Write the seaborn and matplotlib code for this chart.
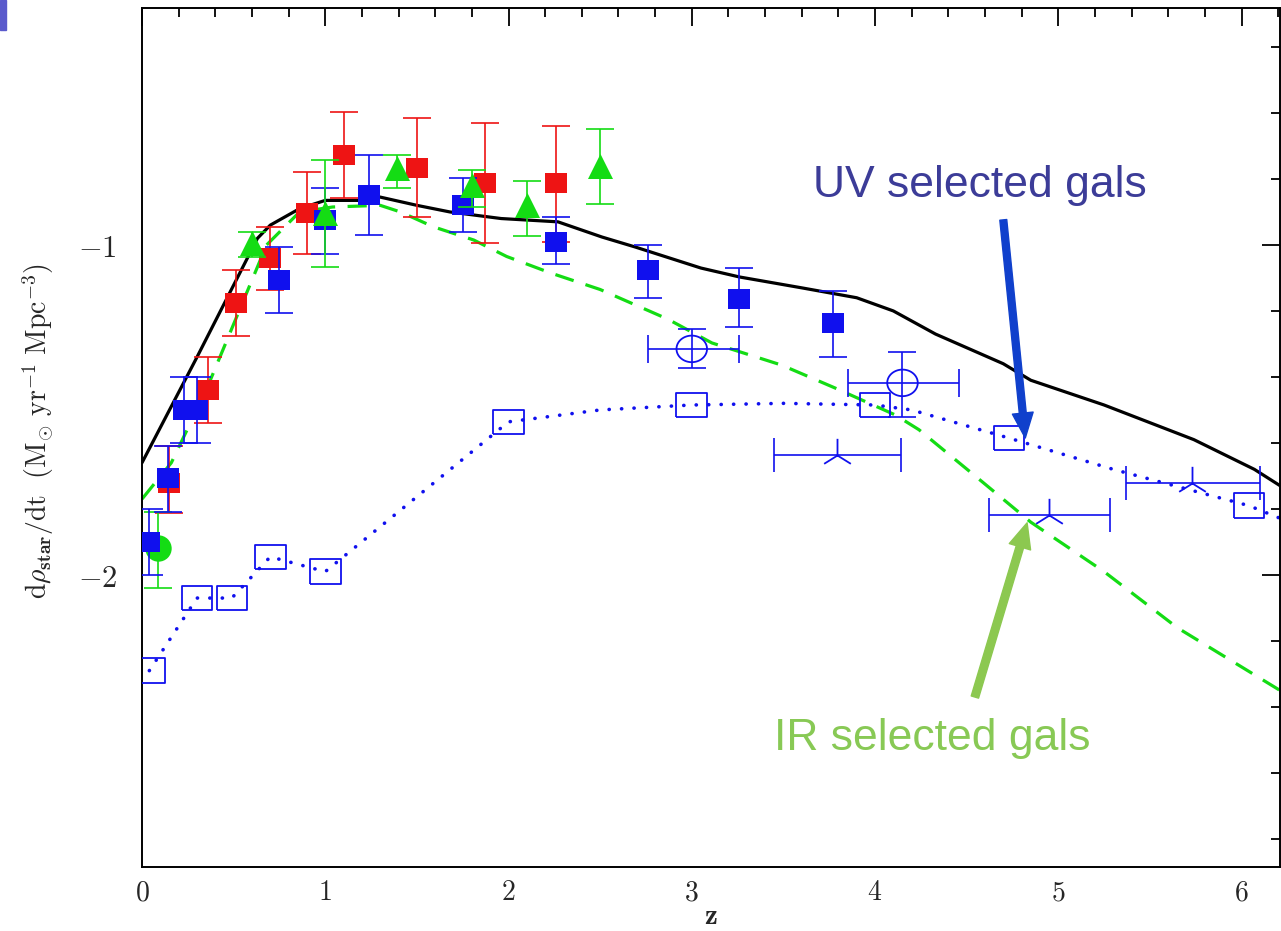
import numpy as np
import matplotlib
matplotlib.use("Agg")
import matplotlib.pyplot as plt
import seaborn as sns
from matplotlib.patches import Rectangle
from matplotlib.ticker import FixedLocator, FixedFormatter, MultipleLocator

# ---------------- data (z, log10 SFR density) ----------------
model_z = [0.0, 0.3, 0.63, 0.70, 0.86, 1.0, 1.2, 1.3, 1.5, 1.68, 1.96, 2.27, 2.51, 2.69,
           3.05, 3.26, 3.6, 3.9, 4.1, 4.33, 4.7, 4.85, 5.25, 5.74, 6.07, 6.24]
model_y = [-1.66, -1.34, -0.98, -0.94, -0.89, -0.865, -0.865, -0.855, -0.88, -0.90, -0.92,
           -0.93, -0.976, -1.006, -1.07, -1.097, -1.13, -1.16, -1.20, -1.27, -1.36, -1.41,
           -1.485, -1.59, -1.68, -1.74]

ir_z = [0.0, 0.16, 0.35, 0.53, 0.68, 0.86, 1.04, 1.3, 1.41, 1.59, 1.81, 1.99, 2.23, 2.5,
        2.87, 3.11, 3.49, 3.78, 4.11, 4.24, 4.59, 4.85, 5.25, 5.65, 6.24]
ir_y = [-1.77, -1.66, -1.44, -1.2, -1.0, -0.90, -0.885, -0.88, -0.90, -0.945, -0.985,
        -1.035, -1.085, -1.135, -1.225, -1.297, -1.364, -1.433, -1.515, -1.56, -1.72,
        -1.84, -1.99, -2.16, -2.36]

uvdot_z = [0.04, 0.30, 0.49, 0.70, 1.0, 2.0, 2.5, 3.0, 3.5, 4.0, 4.2, 4.73, 5.3, 6.04, 6.24]
uvdot_y = [-2.29, -2.07, -2.07, -1.945, -1.99, -1.536, -1.50, -1.485, -1.48, -1.485, -1.50,
           -1.585, -1.68, -1.79, -1.835]

open_sq_z = [0.04, 0.30, 0.49, 0.70, 1.0, 2.0, 3.0, 4.0, 4.73, 6.04]
open_sq_y = [-2.29, -2.07, -2.07, -1.945, -1.99, -1.536, -1.485, -1.485, -1.585, -1.79]

blue_z = [0.04, 0.14, 0.23, 0.30, 0.75, 1.0, 1.24, 1.75, 2.26, 2.76, 3.26, 3.77]
blue_y = [-1.90, -1.706, -1.50, -1.50, -1.106, -0.924, -0.85, -0.88, -0.99, -1.076, -1.164, -1.236]
blue_lo = [-2.00, -1.81, -1.60, -1.60, -1.206, -1.027, -0.97, -0.96, -1.058, -1.16, -1.25, -1.34]
blue_hi = [-1.80, -1.61, -1.40, -1.40, -1.006, -0.827, -0.727, -0.797, -0.915, -1.0, -1.07, -1.14]

red_z = [0.15, 0.36, 0.515, 0.70, 0.90, 1.10, 1.50, 1.87, 2.26]
red_y = [-1.72, -1.44, -1.176, -1.04, -0.903, -0.727, -0.767, -0.812, -0.812]
red_lo = [-1.812, -1.54, -1.276, -1.136, -1.027, -0.858, -0.915, -0.994, -0.99]
red_hi = [-1.61, -1.34, -1.076, -0.945, -0.78, -0.597, -0.615, -0.63, -0.64]

tri_z = [0.60, 1.0, 1.39, 1.80, 2.10, 2.50]
tri_y = [-0.994, -0.903, -0.767, -0.818, -0.88, -0.76]
tri_lo = [-1.036, -1.067, -0.827, -0.885, -0.973, -0.876]
tri_hi = [-0.96, -0.742, -0.727, -0.773, -0.806, -0.648]

gcirc_z = [0.09]
gcirc_y = [-1.918]
gcirc_lo = [-2.04]
gcirc_hi = [-1.81]

ocirc_z = [3.0, 4.15]
ocirc_y = [-1.315, -1.418]
ocirc_lo = [-1.373, -1.52]
ocirc_hi = [-1.255, -1.324]
ocirc_zlo = [2.76, 3.85]
ocirc_zhi = [3.26, 4.46]

star_z = [3.79, 4.95, 5.73]
star_y = [-1.636, -1.818, -1.72]
star_zlo = [3.45, 4.62, 5.37]
star_zhi = [4.14, 5.28, 6.10]

xtick_vals = [0, 1, 2, 3, 4, 5, 6]
xtick_labels = [r"$0$", r"$1$", r"$2$", r"$3$", r"$4$", r"$5$", r"$6$"]
ytick_vals = [-2, -1]
ytick_labels = [r"$-2$", r"$-1$"]

# ---------------- style ----------------
sns.set_style("white")
plt.rcParams["mathtext.fontset"] = "cm"
plt.rcParams["font.family"] = ["DejaVu Serif"]

BLUE = "#1010ee"
RED = "#ee1414"
GREEN = "#14dc14"

fig = plt.figure(figsize=(12.81, 9.31), dpi=100)
fig.patch.set_facecolor("white")
ax = fig.add_axes([142 / 1281, 1 - 867 / 931, (1280 - 142) / 1281, (867 - 8) / 931])

# marker shapes (slightly wide rectangles / ellipses as in the original)
rect_w = [(-1, -0.87), (1, -0.87), (1, 0.87), (-1, 0.87), (-1, -0.87)]
rect_open = [(-1, -0.8), (1, -0.8), (1, 0.8), (-1, 0.8), (-1, -0.8)]
th = np.linspace(0, 2 * np.pi, 60)
ellipse = list(zip(np.cos(th), 0.87 * np.sin(th)))

# ---------------- lines ----------------
sns.lineplot(x=model_z, y=model_y, ax=ax, color="black", lw=2.3, sort=False,
             estimator=None, zorder=2)
sns.lineplot(x=ir_z, y=ir_y, ax=ax, color=GREEN, lw=2.3, sort=False,
             estimator=None, zorder=2)
ax.lines[-1].set_dashes((6.0, 3.9))
sns.lineplot(x=uvdot_z, y=uvdot_y, ax=ax, color=BLUE, lw=2.6, sort=False,
             estimator=None, zorder=2)
ax.lines[-1].set_dashes((0.05, 3.4))
ax.lines[-1].set_dash_capstyle("round")

# ---------------- error bars ----------------
def verr(z, y, lo, hi, col, zo):
    y = np.asarray(y)
    ax.errorbar(z, y, yerr=[y - np.asarray(lo), np.asarray(hi) - y], fmt="none",
                ecolor=col, elinewidth=1.2, capsize=10, capthick=1.2, zorder=zo)

verr(red_z, red_y, red_lo, red_hi, RED, 3)
verr(gcirc_z, gcirc_y, gcirc_lo, gcirc_hi, GREEN, 4)
verr(blue_z, blue_y, blue_lo, blue_hi, BLUE, 5)
verr(tri_z, tri_y, tri_lo, tri_hi, GREEN, 6)
verr(ocirc_z, ocirc_y, ocirc_lo, ocirc_hi, BLUE, 5)

oz = np.asarray(ocirc_z)
ax.errorbar(ocirc_z, ocirc_y, xerr=[oz - np.asarray(ocirc_zlo), np.asarray(ocirc_zhi) - oz],
            fmt="none", ecolor=BLUE, elinewidth=1.2, capsize=10, capthick=1.2, zorder=5)
sz = np.asarray(star_z)
ax.errorbar(star_z, star_y, xerr=[sz - np.asarray(star_zlo), np.asarray(star_zhi) - sz],
            fmt="none", ecolor=BLUE, elinewidth=1.2, capsize=12, capthick=1.2, zorder=5)

# ---------------- markers ----------------
sns.scatterplot(x=red_z, y=red_y, ax=ax, marker=rect_w, s=16.5 ** 2, color=RED,
                edgecolor=RED, linewidth=0, zorder=3.5)
sns.scatterplot(x=gcirc_z, y=gcirc_y, ax=ax, marker="o", s=19 ** 2, color=GREEN,
                edgecolor=GREEN, linewidth=0, zorder=4.5)
sns.scatterplot(x=blue_z, y=blue_y, ax=ax, marker=rect_w, s=16.5 ** 2, color=BLUE,
                edgecolor=BLUE, linewidth=0, zorder=5.5)
sns.scatterplot(x=tri_z, y=tri_y, ax=ax, marker="^", s=18 ** 2, color=GREEN,
                edgecolor=GREEN, linewidth=0, zorder=6.5)
sns.scatterplot(x=open_sq_z, y=open_sq_y, ax=ax, marker=rect_open, s=22 ** 2,
                facecolor="none", edgecolor=BLUE, linewidth=1.3, zorder=5.5)
sns.scatterplot(x=ocirc_z, y=ocirc_y, ax=ax, marker=ellipse, s=22 ** 2,
                facecolor="none", edgecolor=BLUE, linewidth=1.3, zorder=5.5)
sns.scatterplot(x=star_z, y=star_y, ax=ax, marker="2", s=24 ** 2, color=BLUE,
                linewidth=1.3, zorder=5.5)

# ---------------- axes ----------------
ax.set_xlim(0, 6.21)
ax.set_ylim(-2.885, -0.282)
ax.xaxis.set_major_locator(FixedLocator(xtick_vals))
ax.xaxis.set_major_formatter(FixedFormatter(xtick_labels))
ax.xaxis.set_minor_locator(MultipleLocator(0.2))
ax.yaxis.set_major_locator(FixedLocator(ytick_vals))
ax.yaxis.set_major_formatter(FixedFormatter(ytick_labels))
ax.yaxis.set_minor_locator(MultipleLocator(0.2))
ax.tick_params(which="both", direction="in", top=True, right=True, color="black",
               width=1.3)
ax.tick_params(which="major", length=13)
ax.tick_params(which="minor", length=6.5)
ax.tick_params(axis="x", which="major", labelsize=20, pad=9)
ax.tick_params(axis="y", which="major", labelsize=22, pad=18)
for sp in ax.spines.values():
    sp.set_visible(True)
    sp.set_color("black")
    sp.set_linewidth(1.4)

ax.set_xlabel(r"$\mathbf{z}$", fontsize=21)
ax.xaxis.set_label_coords(0.5, -0.041)
ax.set_ylabel(r"$\mathrm{d}\rho_{\mathbf{star}}/\mathrm{dt}\ \ (\mathrm{M}_{\odot}\ \mathrm{yr}^{-1}\ \mathrm{Mpc}^{-3})$",
              fontsize=20)
ax.yaxis.set_label_coords(-0.076, 0.508)

# ---------------- annotations ----------------
ax.annotate("", xy=(4.82, -1.585), xytext=(4.70, -0.924),
            arrowprops=dict(width=5, headwidth=15, headlength=18, shrink=0,
                            facecolor="#1040cc", edgecolor="#1040cc"), zorder=8)
ax.annotate("", xy=(4.83, -1.842), xytext=(4.545, -2.37),
            arrowprops=dict(width=5.5, headwidth=16, headlength=18, shrink=0,
                            facecolor="#8cc850", edgecolor="#8cc850"), zorder=8)
ax.text(4.57, -0.855, "UV selected gals", color="#3c3c98", fontsize=32,
        family=["Liberation Sans", "DejaVu Sans"], ha="center", va="baseline", zorder=9)
ax.text(4.31, -2.53, "IR selected gals", color="#88c955", fontsize=32,
        family=["Liberation Sans", "DejaVu Sans"], ha="center", va="baseline", zorder=9)

fig.patches.append(Rectangle((0, 1 - 30 / 931), 6 / 1281, 30 / 931,
                             transform=fig.transFigure, color="#5a5acc", zorder=10))

fig.savefig("out.png", dpi=100, facecolor="white")
